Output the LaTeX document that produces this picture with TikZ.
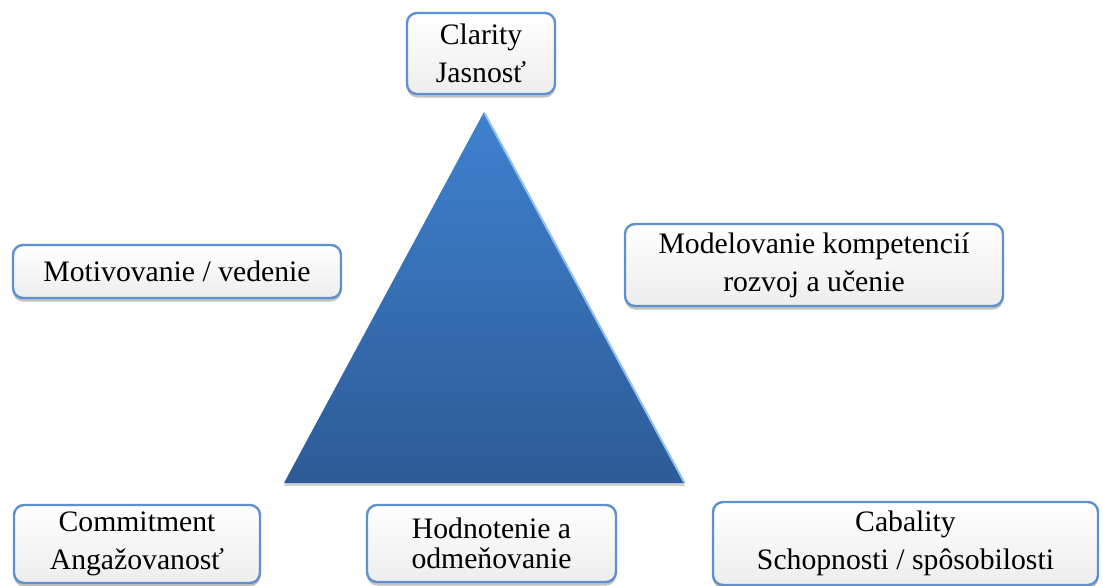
\documentclass[tikz,border=0pt]{standalone}
\usepackage{fontspec}
\setmainfont{Liberation Serif}
\usetikzlibrary{shadows}
\definecolor{boxborder}{HTML}{5E90D0}
\definecolor{boxbottom}{HTML}{EDEDED}
\definecolor{tritop}{HTML}{3F81CF}
\definecolor{tribot}{HTML}{2D5B97}
\definecolor{triedge}{HTML}{93BFF0}
\tikzset{
  infobox/.style={draw=boxborder, line width=2.4pt, rounded corners=10pt,
    top color=white, bottom color=boxbottom, inner sep=0pt, align=center,
    font=\fontsize{29.7}{38}\selectfont,
    drop shadow={shadow xshift=0pt, shadow yshift=-3.5pt, opacity=0.4, fill=black!60}},
}
\begin{document}
\begin{tikzpicture}[x=1pt, y=-1pt]
\useasboundingbox (0,0) rectangle (1103,586);
% triangle
\path[top color=tritop, bottom color=tribot,
  drop shadow={shadow xshift=0pt, shadow yshift=-3pt, opacity=0.3, fill=black!60}]
  (484,112) -- (685,483) -- (284,483) -- cycle;
\draw[triedge, line width=2pt, line cap=round] (485,114) -- (684,482);
% boxes
\node[infobox, minimum width=148pt, minimum height=81pt] (clarity) at (481,53.5) {Clarity\\Jasnosť};
\node[infobox, minimum width=328pt, minimum height=53pt] (motiv) at (177,271.5) {Motivovanie / vedenie};
\node[infobox, minimum width=378pt, minimum height=82pt] (model) at (814,265) {Modelovanie kompetencií\\rozvoj a učenie};
\node[infobox, minimum width=246pt, minimum height=78pt] (commit) at (137,544) {Commitment\\Angažovanosť};
\node[infobox, minimum width=249pt, minimum height=77pt, font=\fontsize{29.7}{30}\selectfont] (hodno) at (491.5,543.5) {Hodnotenie a\\odmeňovanie};
\node[infobox, minimum width=385pt, minimum height=83pt] (cabal) at (905.5,543.5) {Cabality\\Schopnosti / spôsobilosti};
\end{tikzpicture}
\end{document}
